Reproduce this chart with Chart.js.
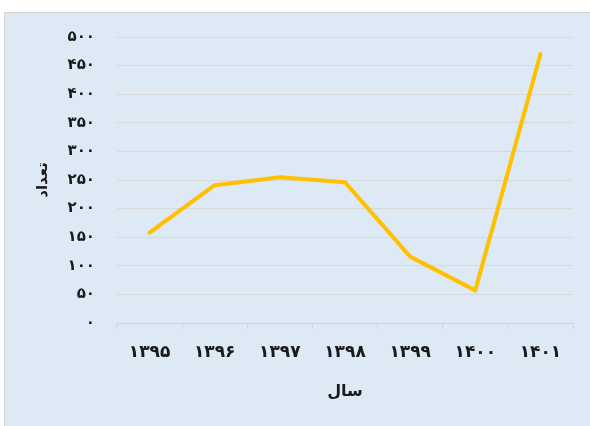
<!DOCTYPE html>
<html>
<head>
<meta charset="utf-8">
<script src="https://cdn.jsdelivr.net/npm/chart.js@4/dist/chart.umd.min.js"></script>
<style>
  html, body { margin: 0; padding: 0; background: #ffffff; }
  #wrap { position: relative; width: 590px; height: 426px; }
</style>
</head>
<body>
<div id="wrap"><canvas id="c" width="590" height="426"></canvas></div>
<script>
// سال‌ها و تعداد
const years = ['۱۳۹۵', '۱۳۹۶', '۱۳۹۷', '۱۳۹۸', '۱۳۹۹', '۱۴۰۰', '۱۴۰۱'];
const counts = [158, 241, 255, 246, 116, 57, 470];
const yTickValues = [0, 50, 100, 150, 200, 250, 300, 350, 400, 450, 500];

const xTitle = 'سال';
const yTitle = 'تعداد';

const persianDigits = ['۰', '۱', '۲', '۳', '۴', '۵', '۶', '۷', '۸', '۹'];
function toPersian(n) {
  return String(n).replace(/[0-9]/g, d => persianDigits[+d]);
}

const FONT = "'DejaVu Sans', sans-serif";

// panel background with a thin frame
const panelBg = {
  id: 'panelBg',
  beforeDraw(chart) {
    const ctx = chart.ctx;
    ctx.save();
    ctx.fillStyle = '#dde9f5';
    ctx.fillRect(4, 12, chart.width - 4, chart.height - 12);
    ctx.strokeStyle = '#d4d4d4';
    ctx.lineWidth = 1;
    ctx.beginPath();
    ctx.moveTo(4.5, chart.height);
    ctx.lineTo(4.5, 12.5);
    ctx.lineTo(chart.width, 12.5);
    ctx.stroke();
    ctx.restore();
  }
};

new Chart(document.getElementById('c'), {
  type: 'line',
  data: {
    labels: years,
    datasets: [{
      data: counts,
      borderColor: '#ffc000',
      borderWidth: 4,
      borderCapStyle: 'round',
      borderJoinStyle: 'round',
      pointRadius: 0,
      tension: 0,
      fill: false
    }]
  },
  options: {
    responsive: false,
    animation: false,
    devicePixelRatio: 1,
    layout: { padding: { left: 0, right: 17, top: 37, bottom: 0 } },
    plugins: { legend: { display: false }, tooltip: { enabled: false } },
    scales: {
      x: {
        type: 'category',
        offset: true,
        grid: {
          offset: true,
          drawOnChartArea: false,
          drawTicks: true,
          tickLength: 6,
          color: '#d4d4d4'
        },
        border: { display: true, color: '#d4d4d4', width: 1 },
        ticks: {
          color: '#1a1a1a',
          padding: 13,
          font: { family: FONT, size: 17, weight: 'bold' },
          maxRotation: 0
        },
        title: {
          display: true,
          text: xTitle,
          color: '#1a1a1a',
          font: { family: FONT, size: 16, weight: 'bold' },
          padding: { top: 0, bottom: 25 }
        },
        afterFit(scale) { scale.height = 103; }
      },
      y: {
        min: 0,
        max: 500,
        afterBuildTicks(scale) {
          scale.ticks = yTickValues.map(v => ({ value: v }));
        },
        grid: {
          color: '#d9d9d9',
          drawTicks: false,
          lineWidth: 1
        },
        border: { display: false },
        ticks: {
          color: '#1a1a1a',
          padding: 22,
          font: { family: FONT, size: 15, weight: 'bold' },
          callback: v => toPersian(v)
        },
        title: {
          display: true,
          text: yTitle,
          color: '#1a1a1a',
          font: { family: FONT, size: 15, weight: 'bold' },
          padding: { top: 34, bottom: 0 }
        },
        afterFit(scale) { scale.width = 117; }
      }
    }
  },
  plugins: [panelBg]
});
</script>
</body>
</html>
